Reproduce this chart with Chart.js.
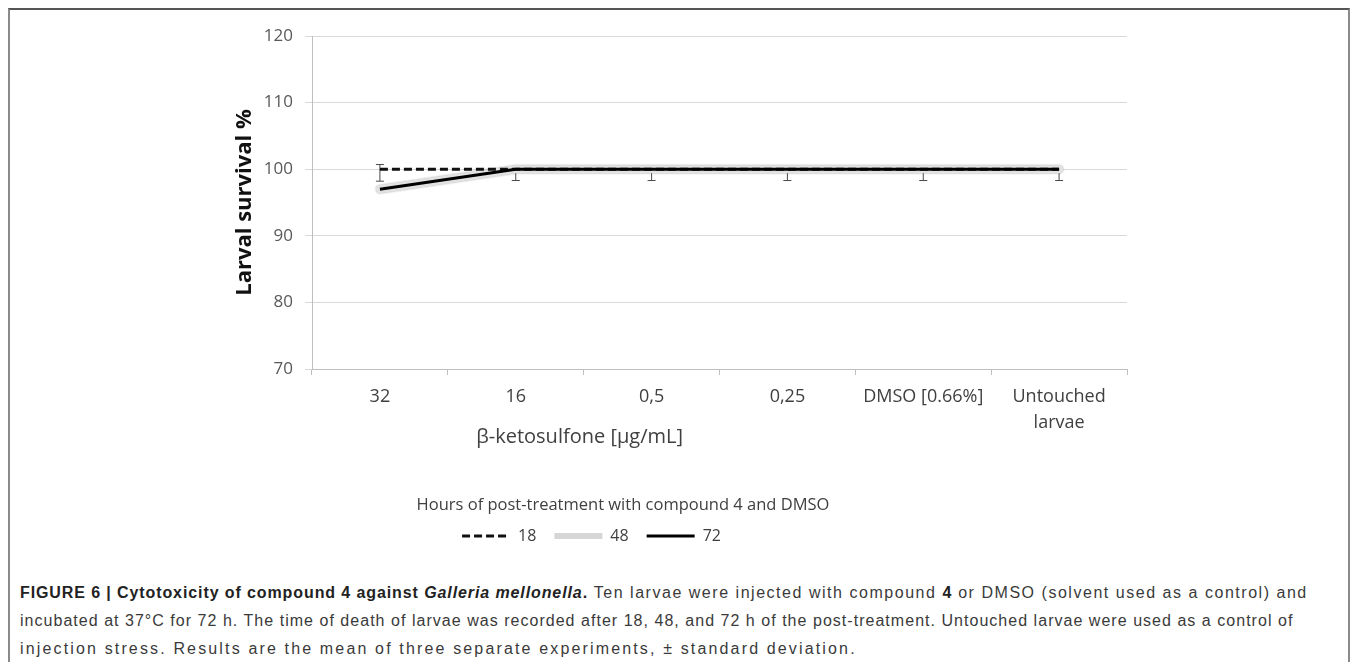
<!DOCTYPE html>
<html>
<head>
<meta charset="utf-8">
<script src="https://cdn.jsdelivr.net/npm/chart.js@4.4.1/dist/chart.umd.min.js"></script>
<style>
  body { margin: 0; background: #fff; }
  #frame {
    position: absolute; left: 8px; top: 8px; width: 1338px; height: 700px;
    border: 2px solid #8a8a8a; border-top-color: #555; border-bottom: none;
  }
  #wrap { position: absolute; left: 10px; top: 10px; width: 1190px; height: 560px; }
  #caption {
    position: absolute; left: 20px; top: 579px; width: 1320px;
    font-family: "Liberation Sans", Arial, sans-serif; font-size: 16px;
    line-height: 28px; color: #3a3a3a; white-space: nowrap;
  }
  #caption b { color: #222; }
  .l1 { letter-spacing: 1.53px; }
  .l1 b { letter-spacing: 0.9px; }
  .l2 { letter-spacing: 1.03px; }
  .l3 { letter-spacing: 2.15px; }
</style>
</head>
<body>
<div id="frame"></div>
<div id="wrap"><canvas id="myChart"></canvas></div>
<div id="caption">
  <span class="l1"><b>FIGURE 6 | Cytotoxicity of compound 4 against <i>Galleria mellonella</i>.</b> Ten larvae were injected with compound <b>4</b> or DMSO (solvent used as a control) and</span><br>
  <span class="l2">incubated at 37°C for 72 h. The time of death of larvae was recorded after 18, 48, and 72 h of the post-treatment. Untouched larvae were used as a control of</span><br>
  <span class="l3">injection stress. Results are the mean of three separate experiments, ± standard deviation.</span>
</div>
<script>
// data
const categories = ['32', '16', '0,5', '0,25', 'DMSO [0.66%]', ['Untouched', 'larvae']];
const hours18 = [100, 100, 100, 100, 100, 100];
const hours48 = [97, 100, 100, 100, 100, 100];
const hours72 = [97, 100, 100, 100, 100, 100];
const errPlus = [0.7, 0, 0, 0, 0, 0];
const errMinus = [1.8, 1.7, 1.7, 1.7, 1.7, 1.7];
const yTicks = [70, 80, 90, 100, 110, 120];

const FONT = '"Open Sans", sans-serif';

// error bars drawn under the lines
const errorBars = {
  id: 'errorBars',
  beforeDatasetsDraw(chart) {
    const {ctx, scales: {x, y}} = chart;
    ctx.save();
    ctx.strokeStyle = '#4a4a4a';
    ctx.lineWidth = 1;
    hours18.forEach((v, i) => {
      const px = x.getPixelForValue(i);
      const top = y.getPixelForValue(v + errPlus[i]);
      const bot = y.getPixelForValue(v - errMinus[i]);
      ctx.beginPath();
      ctx.moveTo(px, top); ctx.lineTo(px, bot);
      ctx.moveTo(px - 4, top); ctx.lineTo(px + 4, top);
      ctx.moveTo(px - 4, bot); ctx.lineTo(px + 4, bot);
      ctx.stroke();
    });
    ctx.restore();
  }
};

// soft outline for the 48 h line
const glow = {
  id: 'glow',
  beforeDatasetDraw(chart, args) {
    if (args.index !== 1) return;
    chart.ctx.save();
    chart.ctx.shadowColor = 'rgba(0,0,0,0.35)';
    chart.ctx.shadowBlur = 2;
  },
  afterDatasetDraw(chart, args) {
    if (args.index !== 1) return;
    chart.ctx.restore();
  }
};

// x axis title and legend title sit off centre in the original
const extraTitles = {
  id: 'extraTitles',
  afterDraw(chart) {
    const {ctx, scales: {x}} = chart;
    ctx.save();
    ctx.fillStyle = '#404040';
    ctx.textAlign = 'center';
    ctx.textBaseline = 'middle';
    ctx.font = '20px ' + FONT;
    ctx.fillText('β-ketosulfone [µg/mL]', x.getPixelForValue(1.47), 427);
    ctx.font = '16.5px ' + FONT;
    ctx.fillText('Hours of post-treatment with compound 4 and DMSO', 613, 495);
    ctx.restore();
  }
};

const data = {
  labels: categories,
  datasets: [
    { label: '18', data: hours18, borderColor: '#111', borderWidth: 3, borderDash: [8, 4],
      pointRadius: 0, tension: 0, order: 1 },
    { label: '48', data: hours48, borderColor: '#e2e2e2', borderWidth: 8,
      pointRadius: 0, tension: 0, order: 2, borderCapStyle: 'round' },
    { label: '72', data: hours72, borderColor: '#000', borderWidth: 3,
      pointRadius: 0, tension: 0, order: 0 }
  ]
};

const config = {
  type: 'line',
  data,
  options: {
    responsive: true,
    maintainAspectRatio: false,
    animation: false,
    layout: { padding: { left: 46, right: 73, top: 26, bottom: 16 } },
    scales: {
      x: {
        offset: true,
        grid: { offset: true, drawOnChartArea: false, drawTicks: true, tickLength: 6, color: '#bfbfbf' },
        border: { color: '#bfbfbf' },
        ticks: { color: '#404040', font: { family: FONT, size: 18, lineHeight: 1.45 }, padding: 9, maxRotation: 0 },
        afterFit(scale) { scale.height = 141; }
      },
      y: {
        min: 70, max: 120,
        afterBuildTicks(scale) { scale.ticks = yTicks.map(v => ({ value: v })); },
        grid: { color: '#d9d9d9', tickLength: 7 },
        border: { color: '#bfbfbf' },
        ticks: { color: '#595959', font: { family: FONT, size: 17 }, padding: 12 },
        title: { display: true, text: 'Larval survival %', color: '#111',
                 font: { family: FONT, size: 22, weight: 'bold' }, padding: { top: 176, bottom: 0 } },
        afterFit(scale) { scale.width = 256; }
      }
    },
    plugins: {
      legend: {
        position: 'bottom',
        labels: {
          usePointStyle: true, pointStyle: 'line', pointStyleWidth: 48,
          color: '#404040', font: { family: FONT, size: 16 }, padding: 18,
          sort: (a, b) => a.datasetIndex - b.datasetIndex,
          generateLabels(chart) {
            const items = Chart.defaults.plugins.legend.labels.generateLabels(chart);
            items.forEach(it => {
              const ds = chart.data.datasets[it.datasetIndex];
              it.lineDash = ds.borderDash || [];
              it.lineWidth = it.datasetIndex === 1 ? 6 : ds.borderWidth;
              it.strokeStyle = it.datasetIndex === 1 ? '#d6d6d6' : ds.borderColor;
            });
            return items;
          }
        }
      },
      tooltip: { enabled: false }
    }
  },
  plugins: [errorBars, glow, extraTitles]
};

const myChart = new Chart(document.getElementById('myChart'), config);
</script>
</body>
</html>
